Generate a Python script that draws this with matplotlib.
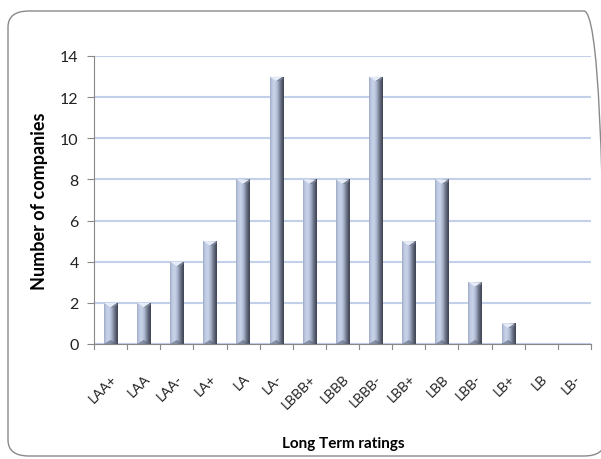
import numpy as np
import matplotlib
matplotlib.use("Agg")
import matplotlib.pyplot as plt
from matplotlib.colors import LinearSegmentedColormap
from matplotlib.patches import FancyBboxPatch, Polygon

ratings = ["LAA+", "LAA", "LAA-", "LA+", "LA", "LA-", "LBBB+", "LBBB", "LBBB-",
           "LBB+", "LBB", "LBB-", "LB+", "LB", "LB-"]
companies = [2, 2, 4, 5, 8, 13, 8, 8, 13, 5, 8, 3, 1, 0, 0]
y_ticks = [0, 2, 4, 6, 8, 10, 12, 14]

plt.rcParams["font.family"] = ["Lato", "DejaVu Sans"]

fig = plt.figure(figsize=(6.01, 4.6), dpi=100)
fig.patch.set_facecolor("white")

# rounded chart frame (runs off the right edge)
frame = FancyBboxPatch((8 / 601, 3 / 460), 597 / 601, 445 / 460,
                       boxstyle="round,pad=0,rounding_size=0.035",
                       transform=fig.transFigure, facecolor="none",
                       edgecolor="#8a8a8a", linewidth=1.0, zorder=-1)
fig.patches.append(frame)

ax = fig.add_axes([94 / 601, 115 / 460, 497 / 601, 288 / 460])
ax.set_facecolor("none")

x = np.arange(len(ratings))
width = 0.40
bars = ax.bar(x, companies, width=width, color="none", edgecolor="none", zorder=3)

cmap = LinearSegmentedColormap.from_list(
    "bevel", [(0.0, "#9ca8c2"), (0.12, "#bcc8e0"), (0.35, "#cad4ea"),
              (0.55, "#aab6ce"), (0.75, "#70788b"), (0.9, "#4e5466"),
              (1.0, "#3e4352")])
grad = np.linspace(0, 1, 64).reshape(1, -1)

for rect, val in zip(bars, companies):
    if val <= 0:
        continue
    x0 = rect.get_x()
    w = rect.get_width()
    im = ax.imshow(grad, cmap=cmap, aspect="auto", extent=(x0, x0 + w, 0, val),
                   zorder=3, interpolation="bicubic")
    im.set_clip_path(rect)
    cap = 0.22
    tri = Polygon([(x0, val), (x0 + w, val), (x0 + w * 0.5, val - cap)],
                  closed=True, facecolor="#e6ecf7", edgecolor="none", zorder=4)
    ax.add_patch(tri)
    side = Polygon([(x0 + w, val), (x0 + w * 0.5, val - cap), (x0 + w * 0.75, val - cap),
                    (x0 + w, val - cap * 0.4)],
                   closed=True, facecolor="#7d8598", edgecolor="none", zorder=4)
    ax.add_patch(side)
    base = Polygon([(x0, 0), (x0 + w, 0), (x0 + w * 0.5, cap * 0.9)],
                   closed=True, facecolor="#5c6478", edgecolor="none", alpha=0.6, zorder=4)
    ax.add_patch(base)

ax.set_aspect("auto")
ax.set_xlim(-0.5, len(ratings) - 0.5)
ax.set_ylim(0, 14)

ax.set_yticks(y_ticks)
ax.set_yticklabels([str(v) for v in y_ticks], fontsize=11.5, color="#222222")
ax.set_xticks(x)
ax.set_xticklabels(ratings, rotation=45, ha="right", va="top", fontsize=10,
                   rotation_mode="anchor", color="#222222")
ax.tick_params(axis="x", length=0, pad=20)
ax.tick_params(axis="y", length=5, color="#888888", pad=6)

# category separators below the axis
for b in np.arange(-0.5, len(ratings), 1.0):
    ax.plot([b, b], [0, -0.25], color="#888888", lw=0.8, clip_on=False, zorder=2)

ax.yaxis.grid(True, color="#c3d0ea", linewidth=1.5, zorder=1)
ax.set_axisbelow(True)
for s in ["top", "right"]:
    ax.spines[s].set_visible(False)
ax.spines["left"].set_color("#888888")
ax.spines["bottom"].set_color("#888888")

ax.set_ylabel("Number of companies", fontsize=13, fontweight="bold")
ax.yaxis.set_label_coords(-46 / 497, 0.5)
fig.text(343 / 601, 1 - 444 / 460, "Long Term ratings", fontsize=11,
         fontweight="bold", ha="center", va="center")

fig.savefig("out.png", dpi=100)
